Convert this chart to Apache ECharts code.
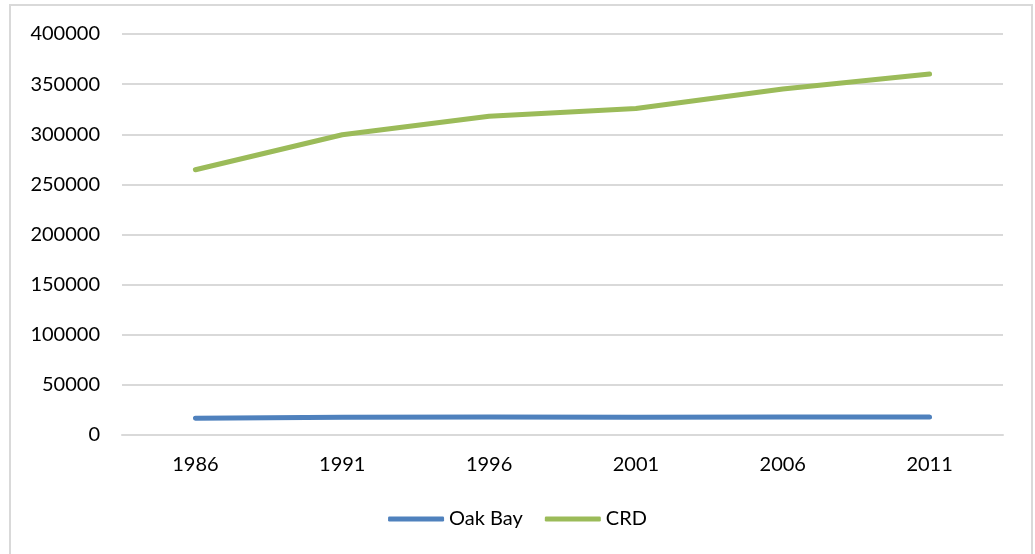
<!DOCTYPE html>
<html>
<head>
<meta charset="utf-8">
<script src="https://cdn.jsdelivr.net/npm/echarts@6/dist/echarts.min.js"></script>
<style>
  html, body { margin: 0; padding: 0; background: #fff; }
  #chart { width: 1035px; height: 554px; }
</style>
</head>
<body>
<div id="chart"></div>
<script>
// census years
const years = ['1986', '1991', '1996', '2001', '2006', '2011'];
// population
const oakBay = [16700, 17800, 17850, 17800, 17900, 18000];
const crd = [264600, 299550, 318000, 325750, 345150, 360000];

const chart = echarts.init(document.getElementById('chart'));
const font = 'Lato, "Open Sans", sans-serif';

chart.setOption({
  animation: false,
  graphic: [{
    type: 'rect',
    shape: { x: 10, y: 5, width: 1022, height: 552 },
    style: { fill: 'none', stroke: '#d9d9d9', lineWidth: 2 },
    silent: true,
  }],
  grid: { left: 122, right: 32, top: 34, bottom: 119 },
  legend: {
    bottom: 20,
    left: 'center',
    icon: 'roundRect',
    itemWidth: 56,
    itemHeight: 5,
    itemGap: 22,
    textStyle: { fontFamily: font, fontSize: 20, color: '#000' },
    data: ['Oak Bay', 'CRD'],
  },
  xAxis: {
    type: 'category',
    data: years,
    boundaryGap: true,
    axisLine: { lineStyle: { color: '#d9d9d9', width: 2 } },
    axisTick: { show: false },
    axisLabel: { fontFamily: font, fontSize: 20, color: '#000', margin: 20 },
  },
  yAxis: {
    type: 'value',
    min: 0,
    max: 400000,
    interval: 50000,
    axisLine: { show: false },
    axisTick: { show: false },
    axisLabel: {
      fontFamily: font, fontSize: 20, color: '#000', margin: 22,
      formatter: (v) => String(v),
    },
    splitLine: { lineStyle: { color: '#d9d9d9', width: 2 } },
  },
  series: [
    {
      name: 'Oak Bay',
      type: 'line',
      data: oakBay,
      symbol: 'none',
      lineStyle: { color: '#4f81bd', width: 5, cap: 'round' },
      itemStyle: { color: '#4f81bd' },
    },
    {
      name: 'CRD',
      type: 'line',
      data: crd,
      symbol: 'none',
      lineStyle: { color: '#9bbb59', width: 5, cap: 'round', join: 'round' },
      itemStyle: { color: '#9bbb59' },
    },
  ],
});
</script>
</body>
</html>
